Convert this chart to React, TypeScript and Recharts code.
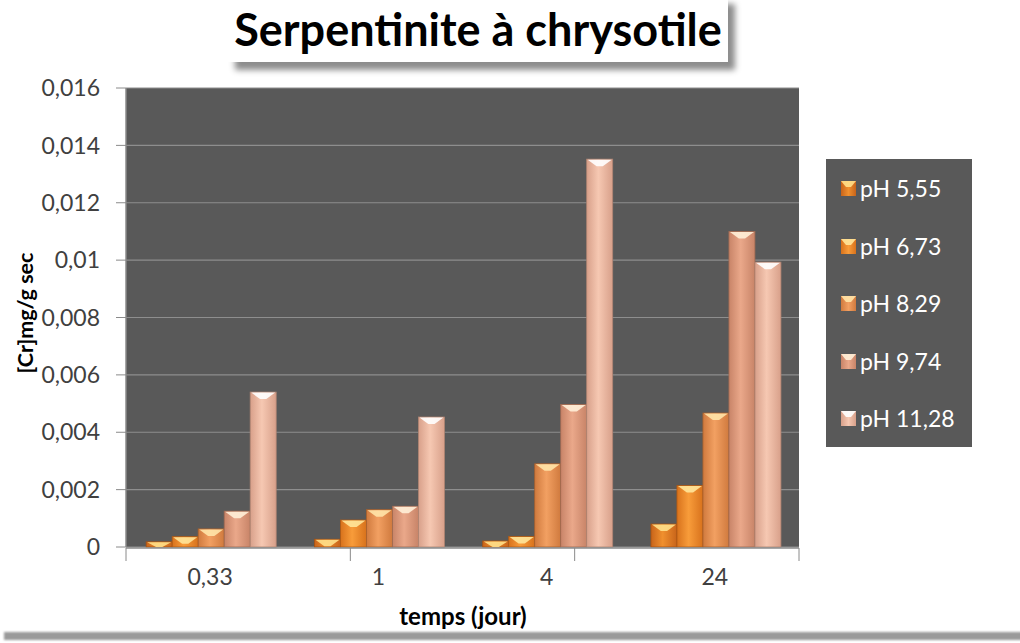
import React from 'react';
import { BarChart, Bar, XAxis, YAxis, CartesianGrid } from 'recharts';

const categories = ['0,33', '1', '4', '24'];
const seriesNames = ['pH 5,55', 'pH 6,73', 'pH 8,29', 'pH 9,74', 'pH 11,28'];
const ph555 = [0.00018, 0.00027, 0.00021, 0.0008];
const ph673 = [0.00036, 0.00094, 0.00037, 0.00214];
const ph829 = [0.00063, 0.0013, 0.0029, 0.00467];
const ph974 = [0.00125, 0.00142, 0.00497, 0.011];
const ph1128 = [0.0054, 0.00453, 0.01352, 0.00993];
const yTicks = [0, 0.002, 0.004, 0.006, 0.008, 0.01, 0.012, 0.014, 0.016];
const boundaries = [0, 1, 2, 3, 4];

const seriesValues = [ph555, ph673, ph829, ph974, ph1128];
const keys = ['s0', 's1', 's2', 's3', 's4'];
const data = categories.map((c, i) => {
  const row: Record<string, string | number> = { cat: c };
  seriesValues.forEach((arr, k) => {
    row[keys[k]] = arr[i];
  });
  return row;
});

// [edge, center, bevel, stroke]
const palette = [
  ['#c8641a', '#f0902e', '#ffe08a', '#a85210'],
  ['#d8721c', '#f89c3a', '#ffe59a', '#b05a14'],
  ['#d07a3e', '#f2a062', '#ffe4a8', '#a8602c'],
  ['#c88468', '#eaa88a', '#fff0d8', '#a06a52'],
  ['#d8a08a', '#f6c8b2', '#ffffff', '#b08472'],
];

const FONT = 'Lato, "Open Sans", sans-serif';

const makeShape = (k: number) => (props: any) => {
  const { x, y, width, height } = props;
  if (!height || height <= 0) return <g />;
  const bh = Math.min(7, height);
  const c = palette[k];
  return (
    <g>
      <rect x={x} y={y} width={width} height={height} fill={`url(#grad${k})`} stroke={c[3]} strokeWidth={0.8} />
      <polygon
        points={`${x + 1},${y + 0.5} ${x + width - 1},${y + 0.5} ${x + width * 0.62},${y + bh} ${x + width * 0.38},${y + bh}`}
        fill={c[2]}
        opacity={0.9}
      />
    </g>
  );
};

const LegendBox = () => (
  <div
    style={{
      position: 'absolute',
      left: 826,
      top: 159,
      width: 146,
      height: 288,
      background: '#595959',
      boxSizing: 'border-box',
      paddingTop: 1,
      fontFamily: FONT,
    }}
  >
    {seriesNames.map((n, k) => (
      <div key={n} style={{ display: 'flex', alignItems: 'center', height: 57.5, marginLeft: 15 }}>
        <svg width={15} height={15} style={{ marginRight: 4, flex: 'none' }}>
          <defs>
            <linearGradient id={`lgrad${k}`} x1="0" y1="0" x2="1" y2="0">
              <stop offset="0%" stopColor={palette[k][0]} />
              <stop offset="50%" stopColor={palette[k][1]} />
              <stop offset="100%" stopColor={palette[k][0]} />
            </linearGradient>
          </defs>
          <rect x={0} y={0} width={15} height={15} fill={`url(#lgrad${k})`} />
          <polygon points="0,0 15,0 10,6 5,6" fill={palette[k][2]} opacity={0.9} />
        </svg>
        <span style={{ color: '#ffffff', fontSize: 23, lineHeight: '23px' }}>{n}</span>
      </div>
    ))}
  </div>
);

export default function App() {
  return (
    <div style={{ position: 'absolute', left: 0, top: 0, width: 1020, height: 643, background: '#ffffff', overflow: 'hidden' }}>
      <div
        style={{
          position: 'absolute',
          left: 228,
          top: -4,
          width: 500,
          height: 66,
          background: '#ffffff',
          boxShadow: '7px 8px 6px rgba(0,0,0,0.45)',
          textAlign: 'center',
          fontFamily: FONT,
          fontWeight: 700,
          fontSize: 45,
          lineHeight: '66px',
          color: '#000000',
          zIndex: 2,
          whiteSpace: 'nowrap',
        }}
      >
        Serpentinite à chrysotile
      </div>
      <div
        style={{
          position: 'absolute',
          left: 4,
          top: 632,
          width: 1020,
          height: 8,
          background: '#9a9a9a',
          filter: 'blur(1px)',
        }}
      />
      <BarChart
        width={1020}
        height={643}
        data={data}
        margin={{ top: 88, right: 221, bottom: 94, left: 0 }}
        barCategoryGap="12%"
        barGap={0}
      >
        <defs>
          {palette.map((c, k) => (
            <linearGradient key={k} id={`grad${k}`} x1="0" y1="0" x2="1" y2="0">
              <stop offset="0%" stopColor={c[0]} />
              <stop offset="45%" stopColor={c[1]} />
              <stop offset="100%" stopColor={c[0]} />
            </linearGradient>
          ))}
        </defs>
        <CartesianGrid vertical={false} fill="#595959" stroke="#8e8e8e" strokeWidth={1.2} />
        <XAxis
          xAxisId="bounds"
          type="number"
          domain={[0, 4]}
          ticks={boundaries}
          height={1}
          tick={() => <g />}
          tickSize={13}
          tickLine={{ stroke: '#8a8a8a' }}
          axisLine={{ stroke: '#8a8a8a', strokeWidth: 1.5 }}
        />
        <XAxis
          dataKey="cat"
          height={1}
          tickLine={false}
          axisLine={false}
          tickSize={0}
          tickMargin={22}
          tick={{ fill: '#404040', fontSize: 23, fontFamily: FONT }}
        />
        <YAxis
          width={126}
          domain={[0, 0.016]}
          ticks={yTicks}
          interval={0}
          tickFormatter={(v: number) => String(v).replace('.', ',')}
          tickSize={10}
          tickMargin={16}
          tick={{ fill: '#404040', fontSize: 23, fontFamily: FONT }}
          tickLine={{ stroke: '#8a8a8a' }}
          axisLine={{ stroke: '#8a8a8a', strokeWidth: 1.5 }}
        />
        {keys.map((key, k) => (
          <Bar key={key} dataKey={key} name={seriesNames[k]} fill={palette[k][1]} shape={makeShape(k)} isAnimationActive={false} />
        ))}
      </BarChart>
      <LegendBox />
      <svg style={{ position: 'absolute', left: 0, top: 0, pointerEvents: 'none' }} width={1020} height={643}>
        <text
          x={0}
          y={0}
          transform="translate(25,313) rotate(-90)"
          textAnchor="middle"
          dominantBaseline="central"
          fontFamily={FONT}
          fontWeight={700}
          fontSize={21.5}
          fill="#000"
        >
          [Cr]mg/g sec
        </text>
        <text x={463} y={625} textAnchor="middle" fontFamily={FONT} fontWeight={700} fontSize={24} fill="#000">
          temps (jour)
        </text>
      </svg>
    </div>
  );
}
